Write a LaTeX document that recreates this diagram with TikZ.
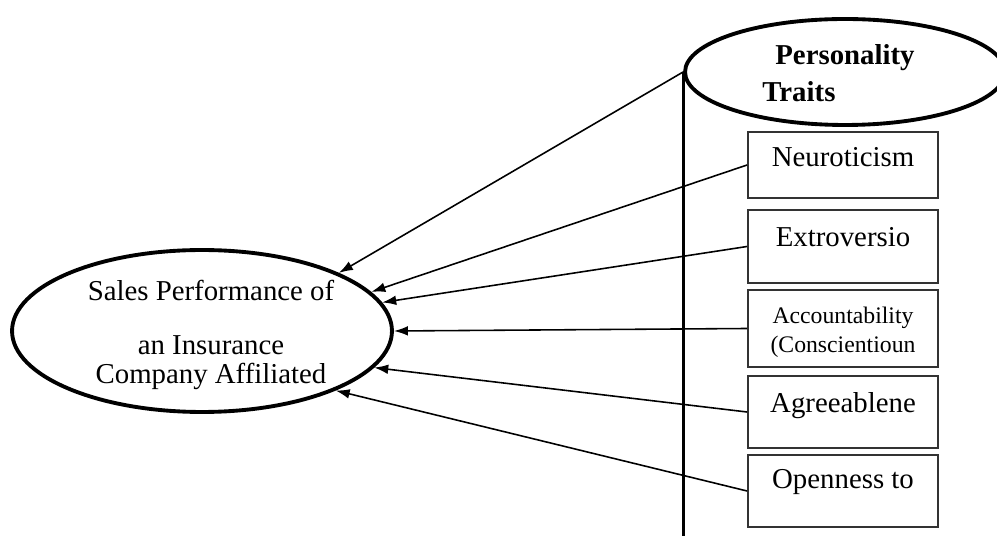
\documentclass[tikz,border=0pt]{standalone}
\usepackage{fontspec}
\setmainfont{Liberation Serif}
\usetikzlibrary{shapes.geometric,arrows.meta}
\begin{document}
\begin{tikzpicture}[x=0.02cm,y=-0.02cm,
  oval/.style={ellipse, draw, line width=2.2pt, inner sep=0pt},
  trait/.style={rectangle, draw=black!80, line width=1.1pt, minimum width=3.8cm, inner sep=0pt},
  txt/.style={inner sep=0pt, anchor=base, font=\fontsize{16.4}{19}\selectfont},
  smalltxt/.style={txt, font=\fontsize{13.5}{16}\selectfont},
  boldtxt/.style={inner sep=0pt, anchor=base west, font=\fontsize{16.4}{19}\selectfont\bfseries},
  link/.style={line width=0.9pt, -{Latex[length=8pt,width=5.5pt]}},
]
\useasboundingbox (0,0) rectangle (997,536);

% dependent construct
\node[oval, minimum width=7.6cm, minimum height=3.24cm] (sales) at (202,331) {};
\node[txt] (s1) at (211,301) {Sales Performance of};
\node[txt] (s2) at (211,355) {an Insurance};
\node[txt] (s3) at (211,384) {Company Affiliated};

% latent construct and its spine
\node[oval, minimum width=6.4cm, minimum height=2.12cm] (pt) at (845,72) {};
\node[boldtxt] (p1) at (775,65) {Personality};
\node[boldtxt] (p2) at (762,102) {Traits};
\coordinate (spineend) at (686,536);
\draw[line width=1.7pt] (pt.west) -- (pt.west |- spineend);

% trait boxes
\node[trait, minimum height=1.32cm] (neu) at (843,165) {};
\node[trait, minimum height=1.46cm] (ext) at (843,246.5) {};
\node[trait, minimum height=1.54cm] (acc) at (843,328.5) {};
\node[trait, minimum height=1.44cm] (agr) at (843,412) {};
\node[trait, minimum height=1.44cm] (opn) at (843,491) {};

\node[txt] (t1) at (843,167) {Neuroticism};
\node[txt] (t2) at (843,247) {Extroversio};
\node[smalltxt] (t3a) at (843,324) {Accountability};
\node[smalltxt] (t3b) at (843,353) {(Conscientioun};
\node[txt] (t4) at (843,413) {Agreeablene};
\node[txt] (t5) at (843,489) {Openness to};

% paths into the outcome
\draw[link] (pt.west) -- (sales.23.3);
\draw[link] (neu.west) -- (sales.13.6);
\draw[link] (ext.west) -- (sales.9.7);
\draw[link] (acc.west) -- (sales.0);
\draw[link] (agr.west) -- (sales.-12.7);
\draw[link] (opn.west) -- (sales.-24.2);
\end{tikzpicture}
\end{document}
